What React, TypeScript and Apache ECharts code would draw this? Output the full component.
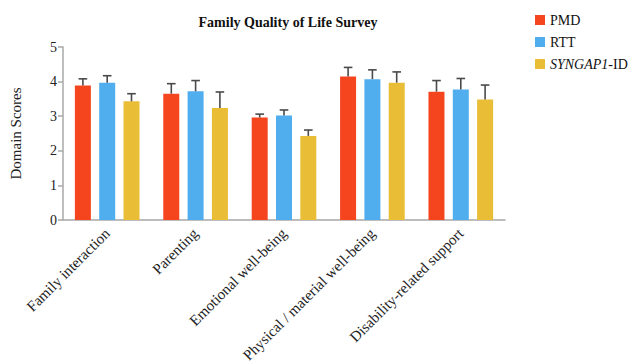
import React, { useEffect, useRef } from "react";
import * as echarts from "echarts";

// Family quality-of-life domains
const domains = [
  "Family interaction",
  "Parenting",
  "Emotional well-being",
  "Physical / material well-being",
  "Disability-related support",
];

const groupNames = ["PMD", "RTT", "SYNGAP1-ID"];
const groupColors = ["#F5451F", "#50AEEE", "#EABD36"];

// Mean domain scores per group
const pmdMeans = [3.89, 3.65, 2.96, 4.15, 3.71];
const rttMeans = [3.97, 3.72, 3.02, 4.07, 3.77];
const syngapMeans = [3.43, 3.24, 2.43, 3.97, 3.48];

// Upper error (SEM) per group
const pmdErr = [0.19, 0.29, 0.1, 0.26, 0.32];
const rttErr = [0.2, 0.31, 0.16, 0.27, 0.32];
const syngapErr = [0.22, 0.46, 0.17, 0.31, 0.42];

const yTicks = [0, 1, 2, 3, 4, 5];

const FONT = "Liberation Serif";
const BAR_WIDTH = 16;
const BAR_STEP = 24.3;

export default function App() {
  const ref = useRef<HTMLDivElement>(null);

  useEffect(() => {
    if (!ref.current) return;
    const chart = echarts.init(ref.current, null, { renderer: "svg" });

    const means = [pmdMeans, rttMeans, syngapMeans];
    const errs = [pmdErr, rttErr, syngapErr];

    const barSeries = groupNames.map((name, g) => ({
      name,
      type: "bar",
      data: means[g],
      barWidth: BAR_WIDTH,
      barGap: "52%",
      itemStyle: { color: groupColors[g] },
      z: 2,
    }));

    const errorSeries = groupNames.map((name, g) => ({
      name: name + " error",
      type: "custom",
      data: means[g].map((m, i) => [i, m, m + errs[g][i]]),
      z: 3,
      renderItem: (params: any, api: any) => {
        const base = api.coord([api.value(0), api.value(1)]);
        const top = api.coord([api.value(0), api.value(2)]);
        const x = base[0] + (g - 1) * BAR_STEP;
        const cap = 4.3;
        const style = { stroke: "#4a4a4a", lineWidth: 1.6 };
        return {
          type: "group",
          children: [
            { type: "line", shape: { x1: x, y1: base[1], x2: x, y2: top[1] }, style },
            { type: "line", shape: { x1: x - cap, y1: top[1], x2: x + cap, y2: top[1] }, style },
          ],
        };
      },
    }));

    chart.setOption({
      animation: false,
      textStyle: { fontFamily: FONT },
      title: {
        text: "Family Quality of Life Survey",
        left: 283,
        textAlign: "center",
        top: 10,
        textStyle: { fontFamily: FONT, fontSize: 14, fontWeight: "bold", color: "#111" },
      },
      legend: {
        data: groupNames,
        orient: "vertical",
        left: 530,
        top: 8,
        itemWidth: 10,
        itemHeight: 10,
        itemGap: 8,
        icon: "rect",
        textStyle: {
          fontFamily: FONT,
          fontSize: 14,
          color: "#111",
          rich: {
            it: { fontFamily: FONT, fontSize: 14, fontStyle: "italic", color: "#111" },
            n: { fontFamily: FONT, fontSize: 14, color: "#111" },
          },
        },
        formatter: (name: string) =>
          name === "SYNGAP1-ID" ? "{it|SYNGAP1}{n|-ID}" : name,
      },
      grid: {
        left: 63,
        right: 124,
        top: 47,
        bottom: 142,
        containLabel: false,
        outerBoundsMode: "none",
      },
      xAxis: {
        type: "category",
        data: domains,
        axisLine: { lineStyle: { color: "#a8a8a8", width: 1.5 } },
        axisTick: { alignWithLabel: true, length: 5, lineStyle: { color: "#a8a8a8", width: 1.5 } },
        axisLabel: {
          rotate: 45,
          interval: 0,
          margin: 11,
          fontFamily: FONT,
          fontSize: 15,
          color: "#222",
        },
      },
      yAxis: {
        type: "value",
        min: yTicks[0],
        max: yTicks[yTicks.length - 1],
        interval: 1,
        name: "Domain Scores",
        nameLocation: "middle",
        nameGap: 40,
        nameTextStyle: { fontFamily: FONT, fontSize: 15, color: "#222" },
        axisLine: { show: true, lineStyle: { color: "#a8a8a8", width: 1.5 } },
        axisTick: { show: true, length: 5, lineStyle: { color: "#a8a8a8", width: 1.5 } },
        axisLabel: { fontFamily: FONT, fontSize: 14, color: "#222", margin: 6 },
        splitLine: { show: false },
      },
      series: [...barSeries, ...errorSeries],
    });

    return () => chart.dispose();
  }, []);

  return (
    <div
      ref={ref}
      style={{ position: "fixed", left: 0, top: 0, width: 629, height: 362, background: "#fff" }}
    />
  );
}
